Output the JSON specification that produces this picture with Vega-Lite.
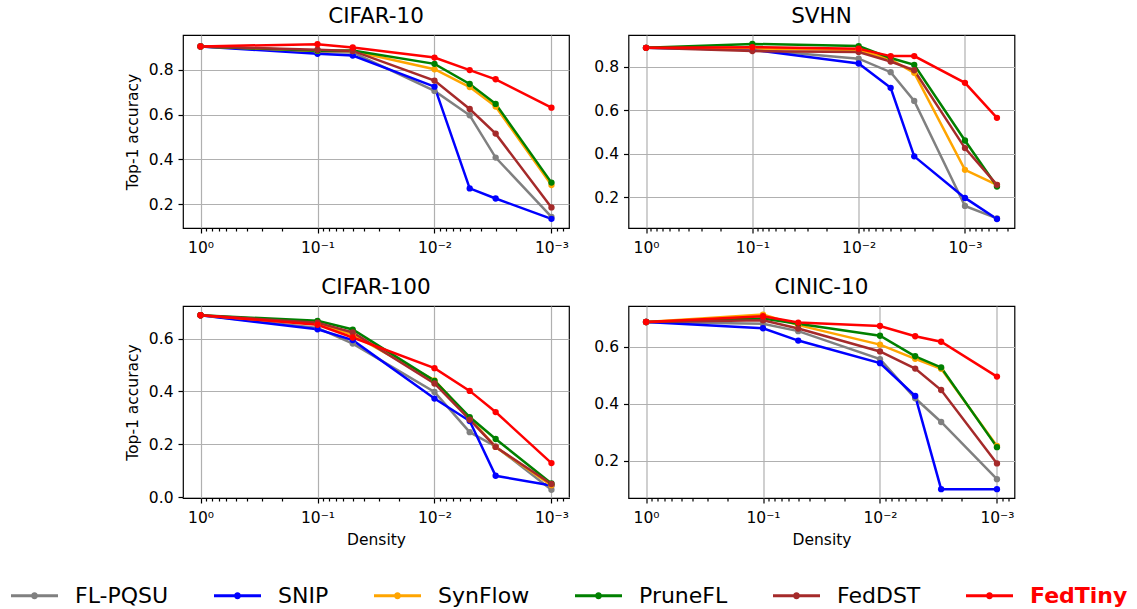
{
"$schema": "https://vega.github.io/schema/vega-lite/v6.json",
"padding": {"left": 11, "top": 4, "right": 0, "bottom": 0},
"bounds": "flush",
"columns": 2,
"spacing": {"row": 78, "column": 59.5},
"data": {"values": [
{"ds":"CIFAR-10","m":"FL-PQSU","d":1,"acc":0.905},{"ds":"CIFAR-10","m":"FL-PQSU","d":0.1,"acc":0.88},{"ds":"CIFAR-10","m":"FL-PQSU","d":0.05,"acc":0.878},{"ds":"CIFAR-10","m":"FL-PQSU","d":0.01,"acc":0.706},{"ds":"CIFAR-10","m":"FL-PQSU","d":0.005,"acc":0.597},{"ds":"CIFAR-10","m":"FL-PQSU","d":0.003,"acc":0.408},{"ds":"CIFAR-10","m":"FL-PQSU","d":0.001,"acc":0.143},
{"ds":"CIFAR-10","m":"SNIP","d":1,"acc":0.905},{"ds":"CIFAR-10","m":"SNIP","d":0.1,"acc":0.872},{"ds":"CIFAR-10","m":"SNIP","d":0.05,"acc":0.864},{"ds":"CIFAR-10","m":"SNIP","d":0.01,"acc":0.725},{"ds":"CIFAR-10","m":"SNIP","d":0.005,"acc":0.27},{"ds":"CIFAR-10","m":"SNIP","d":0.003,"acc":0.225},{"ds":"CIFAR-10","m":"SNIP","d":0.001,"acc":0.134},
{"ds":"CIFAR-10","m":"SynFlow","d":1,"acc":0.905},{"ds":"CIFAR-10","m":"SynFlow","d":0.1,"acc":0.885},{"ds":"CIFAR-10","m":"SynFlow","d":0.05,"acc":0.884},{"ds":"CIFAR-10","m":"SynFlow","d":0.01,"acc":0.803},{"ds":"CIFAR-10","m":"SynFlow","d":0.005,"acc":0.723},{"ds":"CIFAR-10","m":"SynFlow","d":0.003,"acc":0.636},{"ds":"CIFAR-10","m":"SynFlow","d":0.001,"acc":0.285},
{"ds":"CIFAR-10","m":"PruneFL","d":1,"acc":0.905},{"ds":"CIFAR-10","m":"PruneFL","d":0.1,"acc":0.886},{"ds":"CIFAR-10","m":"PruneFL","d":0.05,"acc":0.887},{"ds":"CIFAR-10","m":"PruneFL","d":0.01,"acc":0.827},{"ds":"CIFAR-10","m":"PruneFL","d":0.005,"acc":0.737},{"ds":"CIFAR-10","m":"PruneFL","d":0.003,"acc":0.648},{"ds":"CIFAR-10","m":"PruneFL","d":0.001,"acc":0.296},
{"ds":"CIFAR-10","m":"FedDST","d":1,"acc":0.905},{"ds":"CIFAR-10","m":"FedDST","d":0.1,"acc":0.89},{"ds":"CIFAR-10","m":"FedDST","d":0.05,"acc":0.885},{"ds":"CIFAR-10","m":"FedDST","d":0.01,"acc":0.752},{"ds":"CIFAR-10","m":"FedDST","d":0.005,"acc":0.625},{"ds":"CIFAR-10","m":"FedDST","d":0.003,"acc":0.515},{"ds":"CIFAR-10","m":"FedDST","d":0.001,"acc":0.185},
{"ds":"CIFAR-10","m":"FedTiny","d":1,"acc":0.905},{"ds":"CIFAR-10","m":"FedTiny","d":0.1,"acc":0.915},{"ds":"CIFAR-10","m":"FedTiny","d":0.05,"acc":0.9},{"ds":"CIFAR-10","m":"FedTiny","d":0.01,"acc":0.855},{"ds":"CIFAR-10","m":"FedTiny","d":0.005,"acc":0.799},{"ds":"CIFAR-10","m":"FedTiny","d":0.003,"acc":0.758},{"ds":"CIFAR-10","m":"FedTiny","d":0.001,"acc":0.631},
{"ds":"SVHN","m":"FL-PQSU","d":1,"acc":0.887},{"ds":"SVHN","m":"FL-PQSU","d":0.1,"acc":0.88},{"ds":"SVHN","m":"FL-PQSU","d":0.01,"acc":0.837},{"ds":"SVHN","m":"FL-PQSU","d":0.005,"acc":0.775},{"ds":"SVHN","m":"FL-PQSU","d":0.003,"acc":0.643},{"ds":"SVHN","m":"FL-PQSU","d":0.001,"acc":0.16},{"ds":"SVHN","m":"FL-PQSU","d":0.0005,"acc":0.103},
{"ds":"SVHN","m":"SNIP","d":1,"acc":0.887},{"ds":"SVHN","m":"SNIP","d":0.1,"acc":0.878},{"ds":"SVHN","m":"SNIP","d":0.01,"acc":0.815},{"ds":"SVHN","m":"SNIP","d":0.005,"acc":0.703},{"ds":"SVHN","m":"SNIP","d":0.003,"acc":0.388},{"ds":"SVHN","m":"SNIP","d":0.001,"acc":0.197},{"ds":"SVHN","m":"SNIP","d":0.0005,"acc":0.1},
{"ds":"SVHN","m":"SynFlow","d":1,"acc":0.887},{"ds":"SVHN","m":"SynFlow","d":0.1,"acc":0.885},{"ds":"SVHN","m":"SynFlow","d":0.01,"acc":0.877},{"ds":"SVHN","m":"SynFlow","d":0.005,"acc":0.834},{"ds":"SVHN","m":"SynFlow","d":0.003,"acc":0.772},{"ds":"SVHN","m":"SynFlow","d":0.001,"acc":0.326},{"ds":"SVHN","m":"SynFlow","d":0.0005,"acc":0.257},
{"ds":"SVHN","m":"PruneFL","d":1,"acc":0.887},{"ds":"SVHN","m":"PruneFL","d":0.1,"acc":0.905},{"ds":"SVHN","m":"PruneFL","d":0.01,"acc":0.895},{"ds":"SVHN","m":"PruneFL","d":0.005,"acc":0.84},{"ds":"SVHN","m":"PruneFL","d":0.003,"acc":0.809},{"ds":"SVHN","m":"PruneFL","d":0.001,"acc":0.461},{"ds":"SVHN","m":"PruneFL","d":0.0005,"acc":0.249},
{"ds":"SVHN","m":"FedDST","d":1,"acc":0.887},{"ds":"SVHN","m":"FedDST","d":0.1,"acc":0.872},{"ds":"SVHN","m":"FedDST","d":0.01,"acc":0.868},{"ds":"SVHN","m":"FedDST","d":0.005,"acc":0.824},{"ds":"SVHN","m":"FedDST","d":0.003,"acc":0.784},{"ds":"SVHN","m":"FedDST","d":0.001,"acc":0.426},{"ds":"SVHN","m":"FedDST","d":0.0005,"acc":0.257},
{"ds":"SVHN","m":"FedTiny","d":1,"acc":0.887},{"ds":"SVHN","m":"FedTiny","d":0.1,"acc":0.89},{"ds":"SVHN","m":"FedTiny","d":0.01,"acc":0.883},{"ds":"SVHN","m":"FedTiny","d":0.005,"acc":0.849},{"ds":"SVHN","m":"FedTiny","d":0.003,"acc":0.849},{"ds":"SVHN","m":"FedTiny","d":0.001,"acc":0.726},{"ds":"SVHN","m":"FedTiny","d":0.0005,"acc":0.565},
{"ds":"CIFAR-100","m":"FL-PQSU","d":1,"acc":0.688},{"ds":"CIFAR-100","m":"FL-PQSU","d":0.1,"acc":0.64},{"ds":"CIFAR-100","m":"FL-PQSU","d":0.05,"acc":0.581},{"ds":"CIFAR-100","m":"FL-PQSU","d":0.01,"acc":0.398},{"ds":"CIFAR-100","m":"FL-PQSU","d":0.005,"acc":0.246},{"ds":"CIFAR-100","m":"FL-PQSU","d":0.003,"acc":0.192},{"ds":"CIFAR-100","m":"FL-PQSU","d":0.001,"acc":0.028},
{"ds":"CIFAR-100","m":"SNIP","d":1,"acc":0.688},{"ds":"CIFAR-100","m":"SNIP","d":0.1,"acc":0.635},{"ds":"CIFAR-100","m":"SNIP","d":0.05,"acc":0.594},{"ds":"CIFAR-100","m":"SNIP","d":0.01,"acc":0.373},{"ds":"CIFAR-100","m":"SNIP","d":0.005,"acc":0.288},{"ds":"CIFAR-100","m":"SNIP","d":0.003,"acc":0.081},{"ds":"CIFAR-100","m":"SNIP","d":0.001,"acc":0.044},
{"ds":"CIFAR-100","m":"SynFlow","d":1,"acc":0.688},{"ds":"CIFAR-100","m":"SynFlow","d":0.1,"acc":0.655},{"ds":"CIFAR-100","m":"SynFlow","d":0.05,"acc":0.615},{"ds":"CIFAR-100","m":"SynFlow","d":0.01,"acc":0.442},{"ds":"CIFAR-100","m":"SynFlow","d":0.005,"acc":0.298},{"ds":"CIFAR-100","m":"SynFlow","d":0.003,"acc":0.19},{"ds":"CIFAR-100","m":"SynFlow","d":0.001,"acc":0.044},
{"ds":"CIFAR-100","m":"PruneFL","d":1,"acc":0.688},{"ds":"CIFAR-100","m":"PruneFL","d":0.1,"acc":0.667},{"ds":"CIFAR-100","m":"PruneFL","d":0.05,"acc":0.634},{"ds":"CIFAR-100","m":"PruneFL","d":0.01,"acc":0.44},{"ds":"CIFAR-100","m":"PruneFL","d":0.005,"acc":0.303},{"ds":"CIFAR-100","m":"PruneFL","d":0.003,"acc":0.22},{"ds":"CIFAR-100","m":"PruneFL","d":0.001,"acc":0.052},
{"ds":"CIFAR-100","m":"FedDST","d":1,"acc":0.688},{"ds":"CIFAR-100","m":"FedDST","d":0.1,"acc":0.66},{"ds":"CIFAR-100","m":"FedDST","d":0.05,"acc":0.623},{"ds":"CIFAR-100","m":"FedDST","d":0.01,"acc":0.43},{"ds":"CIFAR-100","m":"FedDST","d":0.005,"acc":0.293},{"ds":"CIFAR-100","m":"FedDST","d":0.003,"acc":0.19},{"ds":"CIFAR-100","m":"FedDST","d":0.001,"acc":0.05},
{"ds":"CIFAR-100","m":"FedTiny","d":1,"acc":0.688},{"ds":"CIFAR-100","m":"FedTiny","d":0.1,"acc":0.652},{"ds":"CIFAR-100","m":"FedTiny","d":0.05,"acc":0.604},{"ds":"CIFAR-100","m":"FedTiny","d":0.01,"acc":0.488},{"ds":"CIFAR-100","m":"FedTiny","d":0.005,"acc":0.402},{"ds":"CIFAR-100","m":"FedTiny","d":0.003,"acc":0.322},{"ds":"CIFAR-100","m":"FedTiny","d":0.001,"acc":0.129},
{"ds":"CINIC-10","m":"FL-PQSU","d":1,"acc":0.686},{"ds":"CINIC-10","m":"FL-PQSU","d":0.1,"acc":0.68},{"ds":"CINIC-10","m":"FL-PQSU","d":0.05,"acc":0.654},{"ds":"CINIC-10","m":"FL-PQSU","d":0.01,"acc":0.556},{"ds":"CINIC-10","m":"FL-PQSU","d":0.005,"acc":0.419},{"ds":"CINIC-10","m":"FL-PQSU","d":0.003,"acc":0.336},{"ds":"CINIC-10","m":"FL-PQSU","d":0.001,"acc":0.136},
{"ds":"CINIC-10","m":"SNIP","d":1,"acc":0.686},{"ds":"CINIC-10","m":"SNIP","d":0.1,"acc":0.664},{"ds":"CINIC-10","m":"SNIP","d":0.05,"acc":0.621},{"ds":"CINIC-10","m":"SNIP","d":0.01,"acc":0.542},{"ds":"CINIC-10","m":"SNIP","d":0.005,"acc":0.427},{"ds":"CINIC-10","m":"SNIP","d":0.003,"acc":0.101},{"ds":"CINIC-10","m":"SNIP","d":0.001,"acc":0.101},
{"ds":"CINIC-10","m":"SynFlow","d":1,"acc":0.686},{"ds":"CINIC-10","m":"SynFlow","d":0.1,"acc":0.712},{"ds":"CINIC-10","m":"SynFlow","d":0.05,"acc":0.675},{"ds":"CINIC-10","m":"SynFlow","d":0.01,"acc":0.607},{"ds":"CINIC-10","m":"SynFlow","d":0.005,"acc":0.557},{"ds":"CINIC-10","m":"SynFlow","d":0.003,"acc":0.522},{"ds":"CINIC-10","m":"SynFlow","d":0.001,"acc":0.252},
{"ds":"CINIC-10","m":"PruneFL","d":1,"acc":0.686},{"ds":"CINIC-10","m":"PruneFL","d":0.1,"acc":0.698},{"ds":"CINIC-10","m":"PruneFL","d":0.05,"acc":0.68},{"ds":"CINIC-10","m":"PruneFL","d":0.01,"acc":0.638},{"ds":"CINIC-10","m":"PruneFL","d":0.005,"acc":0.566},{"ds":"CINIC-10","m":"PruneFL","d":0.003,"acc":0.527},{"ds":"CINIC-10","m":"PruneFL","d":0.001,"acc":0.248},
{"ds":"CINIC-10","m":"FedDST","d":1,"acc":0.686},{"ds":"CINIC-10","m":"FedDST","d":0.1,"acc":0.692},{"ds":"CINIC-10","m":"FedDST","d":0.05,"acc":0.663},{"ds":"CINIC-10","m":"FedDST","d":0.01,"acc":0.583},{"ds":"CINIC-10","m":"FedDST","d":0.005,"acc":0.523},{"ds":"CINIC-10","m":"FedDST","d":0.003,"acc":0.448},{"ds":"CINIC-10","m":"FedDST","d":0.001,"acc":0.191},
{"ds":"CINIC-10","m":"FedTiny","d":1,"acc":0.686},{"ds":"CINIC-10","m":"FedTiny","d":0.1,"acc":0.706},{"ds":"CINIC-10","m":"FedTiny","d":0.05,"acc":0.684},{"ds":"CINIC-10","m":"FedTiny","d":0.01,"acc":0.672},{"ds":"CINIC-10","m":"FedTiny","d":0.005,"acc":0.636},{"ds":"CINIC-10","m":"FedTiny","d":0.003,"acc":0.617},{"ds":"CINIC-10","m":"FedTiny","d":0.001,"acc":0.495}
]},
"concat": [
{
 "title": "CIFAR-10", "width": 386, "height": 193,
 "transform": [{"filter": "datum.ds === 'CIFAR-10'"}],
 "encoding": {
  "x": {"field": "d", "type": "quantitative", "scale": {"type": "log", "domain": [0.000708, 1.4125], "reverse": true, "nice": false, "zero": false},
   "axis": {"title": null, "values": [1,0.9,0.8,0.7,0.6,0.5,0.4,0.3,0.2,0.1,0.09,0.08,0.07,0.06,0.05,0.04,0.03,0.02,0.01,0.009,0.008,0.007,0.006,0.005,0.004,0.003,0.002,0.001,0.0009,0.0008],
    "labelExpr": "datum.value === 1 ? '10⁰' : datum.value === 0.1 ? '10⁻¹' : datum.value === 0.01 ? '10⁻²' : datum.value === 0.001 ? '10⁻³' : ''",
    "tickSize": {"condition": {"test": "indexof([1,0.1,0.01,0.001], datum.value) >= 0", "value": 5}, "value": 3},
    "gridOpacity": {"condition": {"test": "indexof([1,0.1,0.01,0.001], datum.value) >= 0", "value": 1}, "value": 0}}},
  "y": {"field": "acc", "type": "quantitative", "scale": {"domain": [0.093, 0.956], "nice": false, "zero": false},
   "axis": {"title": "Top-1 accuracy", "values": [0.2,0.4,0.6,0.8], "format": ".1f"}},
  "color": {"field": "m", "type": "nominal", "scale": {"domain": ["FL-PQSU","SNIP","SynFlow","PruneFL","FedDST","FedTiny"], "range": ["#808080","#0000ff","#ffa500","#008000","#a52a2a","#ff0000"]},
   "legend": {"title": null, "orient": "none", "legendX": -172, "legendY": 537, "direction": "horizontal", "columns": 6,
    "encode": {"symbols": {"update": {"fill": {"scale": "color", "field": "value"}, "stroke": {"value": "transparent"}, "opacity": {"value": 1}}},
               "labels": {"update": {"fill": {"signal": "datum.value === 'FedTiny' ? '#ff0000' : '#000000'"}, "fontWeight": {"signal": "datum.value === 'FedTiny' ? 'bold' : 'normal'"}}}}}}
 },
 "layer": [
  {"mark": {"type": "line", "strokeWidth": 2.5}},
  {"mark": {"type": "point", "filled": true, "size": 40, "opacity": 1}}
 ]
},
{
 "title": "SVHN", "width": 386, "height": 193,
 "transform": [{"filter": "datum.ds === 'SVHN'"}],
 "encoding": {
  "x": {"field": "d", "type": "quantitative", "scale": {"type": "log", "domain": [0.000342, 1.462], "reverse": true, "nice": false, "zero": false},
   "axis": {"title": null, "values": [1,0.9,0.8,0.7,0.6,0.5,0.4,0.3,0.2,0.1,0.09,0.08,0.07,0.06,0.05,0.04,0.03,0.02,0.01,0.009,0.008,0.007,0.006,0.005,0.004,0.003,0.002,0.001,0.0009,0.0008,0.0007,0.0006,0.0005,0.0004],
    "labelExpr": "datum.value === 1 ? '10⁰' : datum.value === 0.1 ? '10⁻¹' : datum.value === 0.01 ? '10⁻²' : datum.value === 0.001 ? '10⁻³' : ''",
    "tickSize": {"condition": {"test": "indexof([1,0.1,0.01,0.001], datum.value) >= 0", "value": 5}, "value": 3},
    "gridOpacity": {"condition": {"test": "indexof([1,0.1,0.01,0.001], datum.value) >= 0", "value": 1}, "value": 0}}},
  "y": {"field": "acc", "type": "quantitative", "scale": {"domain": [0.0585, 0.946], "nice": false, "zero": false},
   "axis": {"title": null, "values": [0.2,0.4,0.6,0.8], "format": ".1f"}},
  "color": {"field": "m", "type": "nominal", "scale": {"domain": ["FL-PQSU","SNIP","SynFlow","PruneFL","FedDST","FedTiny"], "range": ["#808080","#0000ff","#ffa500","#008000","#a52a2a","#ff0000"]},
   "legend": {"title": null, "orient": "none", "legendX": -172, "legendY": 537, "direction": "horizontal", "columns": 6,
    "encode": {"symbols": {"update": {"fill": {"scale": "color", "field": "value"}, "stroke": {"value": "transparent"}, "opacity": {"value": 1}}},
               "labels": {"update": {"fill": {"signal": "datum.value === 'FedTiny' ? '#ff0000' : '#000000'"}, "fontWeight": {"signal": "datum.value === 'FedTiny' ? 'bold' : 'normal'"}}}}}}
 },
 "layer": [
  {"mark": {"type": "line", "strokeWidth": 2.5}},
  {"mark": {"type": "point", "filled": true, "size": 40, "opacity": 1}}
 ]
},
{
 "title": "CIFAR-100", "width": 386, "height": 192,
 "transform": [{"filter": "datum.ds === 'CIFAR-100'"}],
 "encoding": {
  "x": {"field": "d", "type": "quantitative", "scale": {"type": "log", "domain": [0.000708, 1.4125], "reverse": true, "nice": false, "zero": false},
   "axis": {"title": "Density", "values": [1,0.9,0.8,0.7,0.6,0.5,0.4,0.3,0.2,0.1,0.09,0.08,0.07,0.06,0.05,0.04,0.03,0.02,0.01,0.009,0.008,0.007,0.006,0.005,0.004,0.003,0.002,0.001,0.0009,0.0008],
    "labelExpr": "datum.value === 1 ? '10⁰' : datum.value === 0.1 ? '10⁻¹' : datum.value === 0.01 ? '10⁻²' : datum.value === 0.001 ? '10⁻³' : ''",
    "tickSize": {"condition": {"test": "indexof([1,0.1,0.01,0.001], datum.value) >= 0", "value": 5}, "value": 3},
    "gridOpacity": {"condition": {"test": "indexof([1,0.1,0.01,0.001], datum.value) >= 0", "value": 1}, "value": 0}}},
  "y": {"field": "acc", "type": "quantitative", "scale": {"domain": [-0.003, 0.723], "nice": false, "zero": false},
   "axis": {"title": "Top-1 accuracy", "values": [0,0.2,0.4,0.6], "format": ".1f"}},
  "color": {"field": "m", "type": "nominal", "scale": {"domain": ["FL-PQSU","SNIP","SynFlow","PruneFL","FedDST","FedTiny"], "range": ["#808080","#0000ff","#ffa500","#008000","#a52a2a","#ff0000"]},
   "legend": {"title": null, "orient": "none", "legendX": -172, "legendY": 537, "direction": "horizontal", "columns": 6,
    "encode": {"symbols": {"update": {"fill": {"scale": "color", "field": "value"}, "stroke": {"value": "transparent"}, "opacity": {"value": 1}}},
               "labels": {"update": {"fill": {"signal": "datum.value === 'FedTiny' ? '#ff0000' : '#000000'"}, "fontWeight": {"signal": "datum.value === 'FedTiny' ? 'bold' : 'normal'"}}}}}}
 },
 "layer": [
  {"mark": {"type": "line", "strokeWidth": 2.5}},
  {"mark": {"type": "point", "filled": true, "size": 40, "opacity": 1}}
 ]
},
{
 "title": "CINIC-10", "width": 386, "height": 192,
 "transform": [{"filter": "datum.ds === 'CINIC-10'"}],
 "encoding": {
  "x": {"field": "d", "type": "quantitative", "scale": {"type": "log", "domain": [0.000708, 1.4125], "reverse": true, "nice": false, "zero": false},
   "axis": {"title": "Density", "values": [1,0.9,0.8,0.7,0.6,0.5,0.4,0.3,0.2,0.1,0.09,0.08,0.07,0.06,0.05,0.04,0.03,0.02,0.01,0.009,0.008,0.007,0.006,0.005,0.004,0.003,0.002,0.001,0.0009,0.0008],
    "labelExpr": "datum.value === 1 ? '10⁰' : datum.value === 0.1 ? '10⁻¹' : datum.value === 0.01 ? '10⁻²' : datum.value === 0.001 ? '10⁻³' : ''",
    "tickSize": {"condition": {"test": "indexof([1,0.1,0.01,0.001], datum.value) >= 0", "value": 5}, "value": 3},
    "gridOpacity": {"condition": {"test": "indexof([1,0.1,0.01,0.001], datum.value) >= 0", "value": 1}, "value": 0}}},
  "y": {"field": "acc", "type": "quantitative", "scale": {"domain": [0.07, 0.742], "nice": false, "zero": false},
   "axis": {"title": null, "values": [0.2,0.4,0.6], "format": ".1f"}},
  "color": {"field": "m", "type": "nominal", "scale": {"domain": ["FL-PQSU","SNIP","SynFlow","PruneFL","FedDST","FedTiny"], "range": ["#808080","#0000ff","#ffa500","#008000","#a52a2a","#ff0000"]},
   "legend": {"title": null, "orient": "none", "legendX": -172, "legendY": 537, "direction": "horizontal", "columns": 6,
    "encode": {"symbols": {"update": {"fill": {"scale": "color", "field": "value"}, "stroke": {"value": "transparent"}, "opacity": {"value": 1}}},
               "labels": {"update": {"fill": {"signal": "datum.value === 'FedTiny' ? '#ff0000' : '#000000'"}, "fontWeight": {"signal": "datum.value === 'FedTiny' ? 'bold' : 'normal'"}}}}}}
 },
 "layer": [
  {"mark": {"type": "line", "strokeWidth": 2.5}},
  {"mark": {"type": "point", "filled": true, "size": 40, "opacity": 1}}
 ]
}
],
"config": {
 "background": "white",
 "font": "DejaVu Sans",
 "view": {"stroke": "#000000", "strokeWidth": 1.2},
 "title": {"font": "DejaVu Sans", "fontSize": 21.5, "fontWeight": "normal", "color": "#000000", "anchor": "middle", "offset": 8},
 "axis": {"domain": false, "labelFont": "DejaVu Sans", "labelFontSize": 15.5, "labelColor": "#000000", "tickColor": "#000000", "tickWidth": 1.2, "tickSize": 5, "labelPadding": 5,
   "gridColor": "#b0b0b0", "gridWidth": 1.2, "titleFont": "DejaVu Sans", "titleFontSize": 15.5, "titleFontWeight": "normal", "titleColor": "#000000", "labelOverlap": false, "labelFlush": false},
 "axisY": {"titlePadding": 8},
 "axisX": {"titlePadding": 7, "labelPadding": 7},
 "legend": {"symbolType": "M-1,-0.064L1,-0.064L1,0.064L-1,0.064Z M0.15,0A0.15,0.15,0,1,1,-0.15,0A0.15,0.15,0,1,1,0.15,0Z", "symbolSize": 2209, "symbolStrokeWidth": 0, "symbolOpacity": 1,
   "labelFont": "DejaVu Sans", "labelFontSize": 22, "labelOffset": 17, "columnPadding": 45, "padding": 0, "labelLimit": 0, "labelColor": "#000000"}
}
}
